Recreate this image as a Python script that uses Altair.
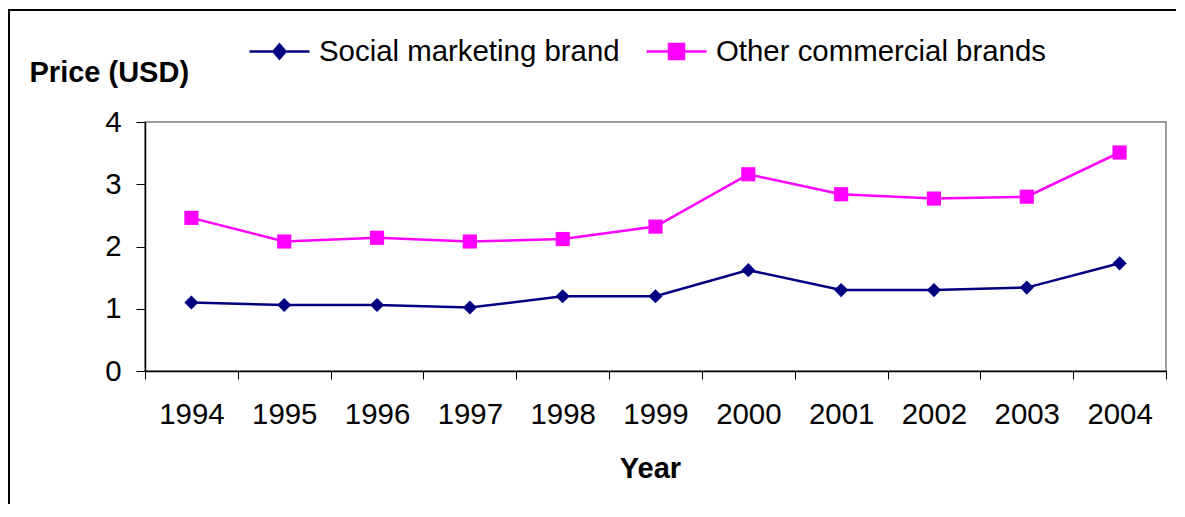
import altair as alt
import pandas as pd

years = ["1994", "1995", "1996", "1997", "1998", "1999", "2000", "2001", "2002", "2003", "2004"]
social = [1.10, 1.06, 1.06, 1.02, 1.20, 1.20, 1.62, 1.30, 1.30, 1.34, 1.73]
other = [2.46, 2.08, 2.14, 2.08, 2.12, 2.32, 3.16, 2.84, 2.77, 2.80, 3.51]
series = ["Social marketing brand", "Other commercial brands"]
colors = ["#000080", "#FF00FF"]
y_ticks = [0, 1, 2, 3, 4]

df_s = pd.DataFrame({"year": years, "price": social, "series": series[0]})
df_o = pd.DataFrame({"year": years, "price": other, "series": series[1]})

FONT = "Liberation Sans"
FS = 29.4
FSB = 29

diamond_path = "M-1,0L1,0M0,-0.233L0.2,0L0,0.233L-0.2,0Z"
square_path = "M-1,0L1,0M-0.25,-0.25L0.25,-0.25L0.25,0.25L-0.25,0.25Z"

x_axis = alt.Axis(
    tickBand="extent",
    labelAngle=0,
    tickSize=8,
    labelPadding=21,
    labelFontSize=FS,
    labelFont=FONT,
    labelColor="black",
    title="Year",
    titleFont=FONT,
    titleFontSize=FSB,
    titleFontWeight="bold",
    titleColor="black",
    titleX=505,
    titleY=106,
    titleAlign="center",
    titleBaseline="alphabetic",
    domainColor="black",
    domainWidth=1.5,
    tickColor="black",
    tickWidth=1,
    grid=False,
)

y_axis = alt.Axis(
    values=y_ticks,
    tickSize=9,
    labelPadding=15,
    labelFontSize=FS,
    labelFont=FONT,
    labelColor="black",
    title="Price (USD)",
    titleFont=FONT,
    titleFontSize=FSB,
    titleFontWeight="bold",
    titleColor="black",
    titleAngle=0,
    titleAlign="left",
    titleBaseline="alphabetic",
    titleX=-116,
    titleY=-41,
    domainColor="black",
    domainWidth=1.5,
    tickColor="black",
    tickWidth=1,
    grid=False,
)

x_enc = alt.X(
    "year:O",
    sort=years,
    scale=alt.Scale(type="band", paddingInner=0, paddingOuter=0),
    axis=x_axis,
)
y_enc = alt.Y("price:Q", scale=alt.Scale(domain=[0, 4], nice=False, zero=True), axis=y_axis)


def series_layer(df, name, color, shape, path, legend_x):
    legend = alt.Legend(
        orient="none",
        legendX=legend_x,
        legendY=-102,
        direction="horizontal",
        title=None,
        padding=0,
        symbolType=path,
        symbolSize=3600,
        symbolFillColor=color,
        symbolStrokeColor=color,
        symbolStrokeWidth=2.5,
        symbolOpacity=1,
        labelFontSize=FS,
        labelFont=FONT,
        labelColor="black",
        labelLimit=800,
        labelOffset=8,
    )
    color_enc = alt.Color(
        "series:N", scale=alt.Scale(domain=[name], range=[color]), legend=legend
    )
    base = alt.Chart(df)
    line = base.mark_line(strokeWidth=2.5).encode(x=x_enc, y=y_enc, color=color_enc)
    pts = base.mark_point(filled=True, opacity=1, size=200, shape=shape).encode(
        x=x_enc, y=y_enc, color=color_enc
    )
    return alt.layer(line, pts)


layer_s = series_layer(df_s, series[0], colors[0], "diamond", diamond_path, 103)
layer_o = series_layer(df_o, series[1], colors[1], "square", square_path, 500)

frame = alt.Chart(alt.Data(values=[{"k": 1}])).mark_rect(
    fill=None, stroke="black", strokeWidth=2
).encode(
    x=alt.value(-136),
    y=alt.value(-112),
    x2=alt.value(3000),
    y2=alt.value(3000),
)

chart = (
    alt.layer(frame, layer_s, layer_o)
    .resolve_scale(color="independent")
    .properties(
        width=1021,
        height=249,
        autosize=alt.AutoSizeParams(type="none"),
        padding={"left": 137, "top": 114, "right": 10, "bottom": 133},
        background="white",
    )
    .configure_view(stroke="#808080", strokeWidth=1.5)
)

chart.save("out.html", embed_options={"renderer": "svg", "actions": False})
